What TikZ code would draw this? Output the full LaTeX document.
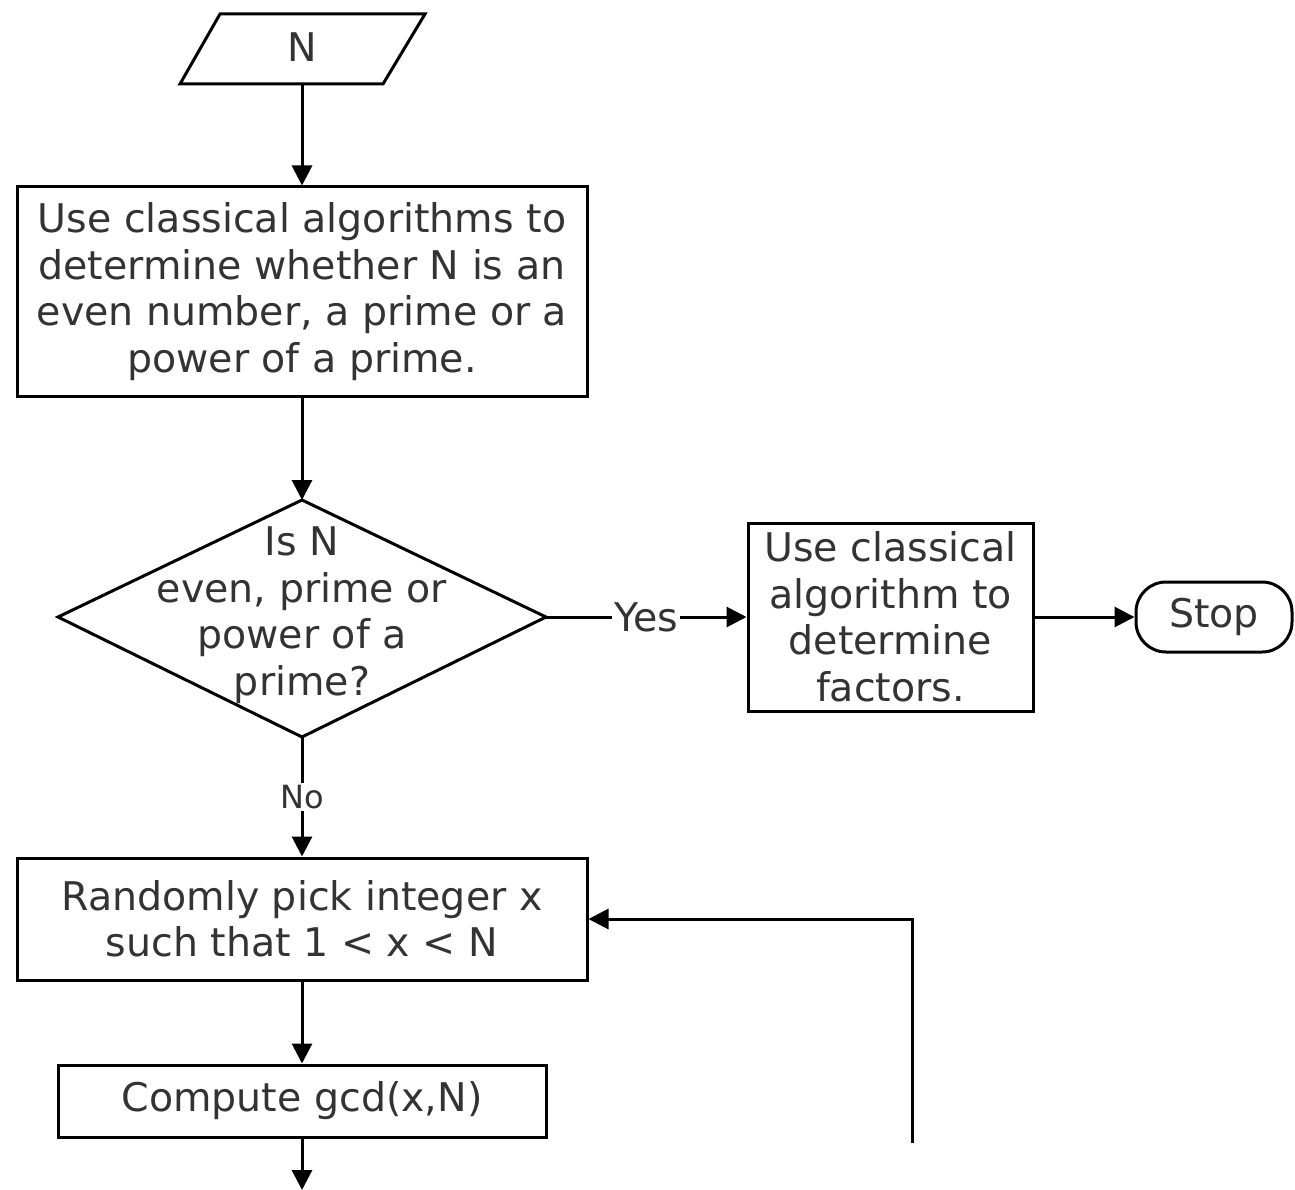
\documentclass[tikz,border=0pt]{standalone}
\usepackage{fontspec}
\setmainfont{DejaVu Sans}
\usetikzlibrary{arrows.meta}
\begin{document}
\begin{tikzpicture}[x=1pt,y=-1pt,
  line width=3pt,
  every node/.style={font=\fontsize{39.5}{46.5}\selectfont, text=black!80},
  stepbox/.style={draw, rectangle, align=center, inner sep=0pt},
  flow/.style={-{Triangle[length=20pt,width=20pt]}},
  lbl/.style={fill=white, inner sep=2pt}
]
\useasboundingbox (0,0) rectangle (1295,1190);
% input parallelogram
\coordinate (p1) at (220,14);
\coordinate (p2) at (425,14);
\coordinate (p3) at (383,84);
\coordinate (p4) at (180,84);
\coordinate (pbot) at (302,84);
\draw[line join=miter] (p1) -- (p2) -- (p3) -- (p4) -- cycle;
\node (nin) at (302,47) {N};
% box 1
\node[stepbox, minimum width=570pt, minimum height=209pt] (b1) at (302,291.5)
  {Use classical algorithms to\\determine whether N is an\\even number, a prime or a\\power of a prime.};
% diamond
\coordinate (dtop) at (302,500);
\coordinate (dleft) at (58,617);
\coordinate (dright) at (546,617);
\coordinate (dbot) at (302,737);
\draw (dtop) -- (dright) -- (dbot) -- (dleft) -- cycle;
\node[align=center] (dtext) at (302,615) {Is N\\even, prime or\\power of a\\prime?};
% box 2
\node[stepbox, minimum width=285pt, minimum height=188pt] (b2) at (890.5,617)
  {Use classical\\algorithm to\\determine\\factors.};
% stop
\node[draw, rounded corners=30pt, minimum width=156pt, minimum height=70pt, inner sep=0pt] (stop) at (1214,617) {Stop};
% box 3
\node[stepbox, minimum width=570pt, minimum height=122pt] (b3) at (302,919)
  {Randomly pick integer x\\such that 1 < x < N};
% box 4
\node[stepbox, minimum width=488pt, minimum height=72pt] (b4) at (302,1101)
  {Compute gcd(x,N)};
\coordinate (bend) at (302,1190);
\coordinate (loopstart) at (912,1143);
% connectors
\draw[flow] (pbot) -- (b1.north);
\draw[flow] (b1.south) -- (dtop);
\draw[flow] (dright) -- node[lbl] (yes) {Yes} (b2.west);
\draw[flow] (b2.east) -- (stop.west);
\draw[flow] (dbot) -- node[lbl, font=\fontsize{32}{36}\selectfont] (no) {No} (b3.north);
\draw[flow] (b3.south) -- (b4.north);
\draw[flow] (b4.south) -- (bend);
\draw[flow] (loopstart) |- (b3.east);
\end{tikzpicture}
\end{document}
